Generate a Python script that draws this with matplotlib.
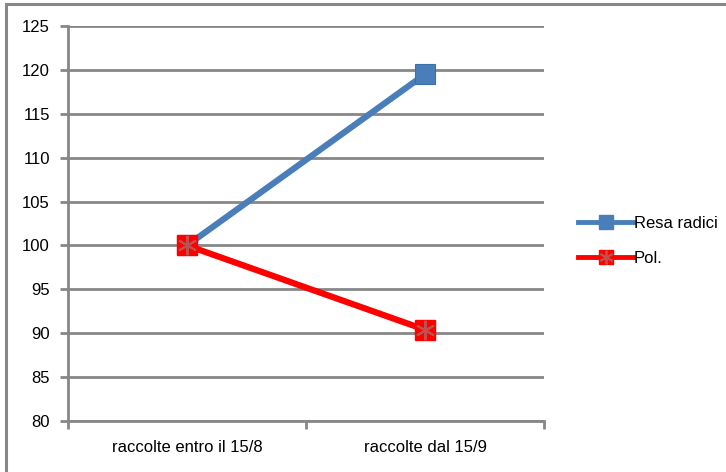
import matplotlib.pyplot as plt
from matplotlib.patches import Rectangle
from matplotlib.legend_handler import HandlerTuple

categorie = ['raccolte entro il 15/8', 'raccolte dal 15/9']
resa_radici = [100, 119.5]
pol = [100, 90.4]
y_ticks = [80, 85, 90, 95, 100, 105, 110, 115, 120, 125]

plt.rcParams['font.family'] = ['Liberation Sans', 'DejaVu Sans']
grigio = '#878787'

fig = plt.figure(figsize=(7.26, 4.72), dpi=100)
# cornice esterna del grafico
fig.patches.append(Rectangle((6 / 726, -0.05), 1.1, 1 - 3.5 / 472 + 0.05,
                             transform=fig.transFigure, fill=False,
                             edgecolor=grigio, linewidth=2.2))

ax = fig.add_axes([68 / 726, 1 - 421 / 472, (544 - 68) / 726, (421 - 26) / 472])
x = [0.5, 1.5]

ax.plot(x, resa_radici, color='#4A7EBB', linewidth=4.5, marker='s',
        markersize=14, markerfacecolor='#4A7EBB', markeredgecolor='#3F6FA8',
        markeredgewidth=0.8, zorder=3)
ax.plot(x, pol, color='#FF0000', linewidth=4.5, marker='s',
        markersize=14, markerfacecolor='#FF0000', markeredgecolor='#FF0000',
        zorder=4)
# asterisco sui marcatori rossi
ax.plot(x, pol, linestyle='none', marker=(6, 2, 0), markersize=14,
        markeredgecolor='#C0504D', markeredgewidth=1.5, zorder=5)

ax.set_xlim(0, 2)
ax.set_ylim(80, 125)
ax.set_yticks(y_ticks)
ax.yaxis.grid(True, color=grigio, linewidth=2)
ax.set_axisbelow(True)
ax.set_xticks([0, 1, 2])
ax.set_xticklabels([])
ax.set_xticks(x, minor=True)
ax.set_xticklabels(categorie, minor=True, fontsize=12)
ax.tick_params(axis='x', which='minor', length=0, pad=14)
ax.tick_params(axis='x', which='major', length=6, width=2, color=grigio, direction='out')
ax.tick_params(axis='y', length=6, width=2, color=grigio, labelsize=12, pad=7)

for s in ['top', 'right']:
    ax.spines[s].set_visible(False)
for s in ['left', 'bottom']:
    ax.spines[s].set_color(grigio)
    ax.spines[s].set_linewidth(2)

# legenda con linee e marcatori piu' piccoli
h_blu, = ax.plot([], [], color='#4A7EBB', linewidth=3.5, marker='s', markersize=10,
                 markerfacecolor='#4A7EBB', markeredgecolor='#4A7EBB')
h_rosso, = ax.plot([], [], color='#FF0000', linewidth=3.5, marker='s', markersize=10,
                   markerfacecolor='#FF0000', markeredgecolor='#FF0000')
h_ast, = ax.plot([], [], linestyle='none', marker=(6, 2, 0), markersize=10,
                 markeredgecolor='#C0504D', markeredgewidth=1.3)
ax.legend([h_blu, (h_rosso, h_ast)], ['Resa radici', 'Pol.'],
          handler_map={tuple: HandlerTuple(ndivide=1, pad=0)},
          loc='center left', bbox_to_anchor=(1.04, 0.455), frameon=False,
          fontsize=12, handlelength=3.3, handletextpad=0.05, labelspacing=1.2)

fig.savefig('out.png', dpi=100)
